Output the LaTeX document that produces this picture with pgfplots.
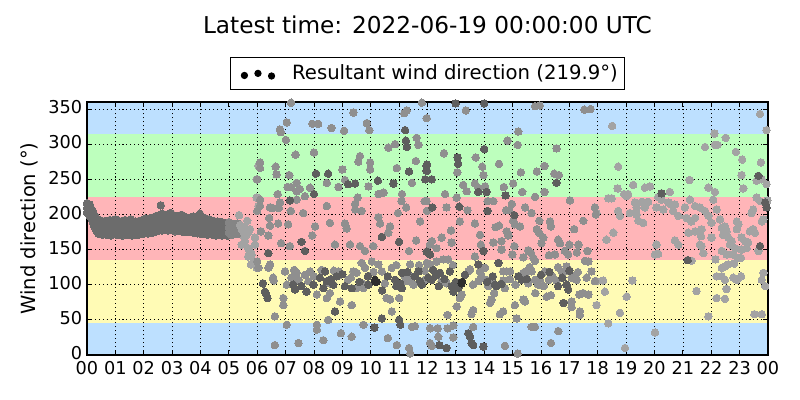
\documentclass[border=0pt]{standalone}
\usepackage{fontspec}
\setmainfont{DejaVu Sans}
\usepackage{pgfplots}
\pgfplotsset{compat=1.18}
\definecolor{bblue}{HTML}{BDE0FF}
\definecolor{bgreen}{HTML}{BDFFBD}
\definecolor{bred}{HTML}{FFB5B8}
\definecolor{byellow}{HTML}{FFFBB5}
\definecolor{cband}{HTML}{6C6C6C}
\definecolor{cbandl}{HTML}{858585}
\definecolor{cl1}{HTML}{8F8F8F}
\definecolor{cl2}{HTML}{A3A3A3}
\definecolor{cd}{HTML}{5E5E5E}
\definecolor{ck}{HTML}{2E2E2E}
\pgfplotsset{dots/.style={only marks, mark=*, mark size=2.7pt, color=#1, mark options={fill=#1, draw=#1, line width=0pt}, forget plot}}
\begin{document}
\begin{tikzpicture}
\begin{axis}[
 scale only axis, width=492.2pt, height=182.84pt,
 xmin=0, xmax=24, ymin=0, ymax=360,
 xtick={0,1,...,24},
 xticklabels={00,01,02,03,04,05,06,07,08,09,10,11,12,13,14,15,16,17,18,19,20,21,22,23,00},
 ytick={0,50,...,350},
 axis on top,
 grid=major,
 grid style={black, line width=0.5pt, dash pattern=on 0.75pt off 2.1pt},
 axis line style={line width=0.9pt},
 major tick style={black, line width=0.7pt},
 major tick length=3.6pt,
 tick align=inside,
 xticklabel style={font=\fontsize{12.8}{15}\selectfont, yshift=-1.2pt},
 yticklabel style={font=\fontsize{12.8}{15}\selectfont, yshift=1.2pt},
 /pgf/number format/assume math mode=true,
 ylabel={Wind direction (°)},
 ylabel style={at={(axis description cs:-0.0852,0.5)}, anchor=center, font=\fontsize{14.1}{17}\selectfont},
 title={Latest time: 2022-06-19 00:00:00 UTC},
 title style={at={(axis description cs:0.5,1.2708)}, anchor=center, font=\fontsize{16.77}{20}\selectfont},
 legend style={at={(axis description cs:0.5,1.1126)}, anchor=center, draw=black, line width=0.8pt,
   font=\fontsize{14.2}{17}\selectfont, inner xsep=5pt, inner ysep=5.5pt,
   nodes={inner sep=0pt}, /tikz/every odd column/.append style={column sep=12.3pt}},
]
% bands
\addplot[fill=bblue, draw=none, forget plot] coordinates {(0,0)(24,0)(24,45)(0,45)};
\addplot[fill=byellow, draw=none, forget plot] coordinates {(0,45)(24,45)(24,135)(0,135)};
\addplot[fill=bred, draw=none, forget plot] coordinates {(0,135)(24,135)(24,225)(0,225)};
\addplot[fill=bgreen, draw=none, forget plot] coordinates {(0,225)(24,225)(24,315)(0,315)};
\addplot[fill=bblue, draw=none, forget plot] coordinates {(0,315)(24,315)(24,360)(0,360)};

% dense band 00-05
\addplot[dots=cband] coordinates {
(0.00,216)(0.00,209)(0.00,203)(0.05,212)(0.05,206)(0.05,201)(0.10,214)(0.10,205)(0.10,198)
(0.15,208)(0.15,200)(0.15,194)(0.20,205)(0.20,197)(0.20,190)(0.25,200)(0.25,193)(0.25,184)
(0.30,196)(0.30,187)(0.30,180)(0.35,194)(0.35,184)(0.35,176)(0.40,190)(0.40,182)(0.40,173)
(0.45,192)(0.45,181)(0.45,172)(0.50,188)(0.50,180)(0.50,174)(0.55,190)(0.55,182)(0.55,171)
(0.60,186)(0.60,179)(0.60,173)(0.65,191)(0.65,184)(0.65,175)(0.70,189)(0.70,180)(0.70,171)
(0.75,187)(0.75,178)(0.75,172)(0.80,192)(0.80,185)(0.80,176)(0.85,188)(0.85,179)(0.85,170)
(0.90,190)(0.90,183)(0.90,174)(0.95,186)(0.95,178)(0.95,172)(1.00,193)(1.00,183)(1.00,175)
(1.05,189)(1.05,180)(1.05,171)(1.10,191)(1.10,181)(1.10,173)(1.15,187)(1.15,182)(1.15,176)
(1.20,190)(1.20,180)(1.20,172)(1.25,185)(1.25,178)(1.25,170)(1.30,189)(1.30,181)(1.30,174)
(1.35,192)(1.35,185)(1.35,177)(1.40,188)(1.40,179)(1.40,171)(1.45,186)(1.45,180)(1.45,173)
(1.50,190)(1.50,183)(1.50,175)(1.55,193)(1.55,181)(1.55,172)(1.60,188)(1.60,178)(1.60,170)
(1.65,186)(1.65,179)(1.65,174)(1.70,190)(1.70,181)(1.70,172)(1.75,189)(1.75,183)(1.75,176)
(1.80,185)(1.80,177)(1.80,171)(1.85,191)(1.85,182)(1.85,173)(1.90,188)(1.90,181)(1.90,175)
(1.95,192)(1.95,183)(1.95,172)(2.00,190)(2.00,184)(2.00,176)(2.05,194)(2.05,183)(2.05,174)
(2.10,188)(2.10,182)(2.10,177)(2.15,193)(2.15,182)(2.15,173)(2.20,191)(2.20,184)(2.20,175)
(2.25,195)(2.25,186)(2.25,178)(2.30,190)(2.30,181)(2.30,174)(2.35,196)(2.35,186)(2.35,177)
(2.40,192)(2.40,186)(2.40,179)(2.45,198)(2.45,187)(2.45,176)(2.50,194)(2.50,187)(2.50,180)
(2.55,199)(2.55,189)(2.55,178)(2.60,196)(2.60,188)(2.60,181)(2.65,201)(2.65,190)(2.65,177)
(2.70,195)(2.70,187)(2.70,180)(2.75,198)(2.75,189)(2.75,178)(2.80,193)(2.80,187)(2.80,182)
(2.85,200)(2.85,189)(2.85,177)(2.90,196)(2.90,188)(2.90,179)(2.95,202)(2.95,191)(2.95,181)
(3.00,197)(3.00,188)(3.00,178)(3.05,199)(3.05,190)(3.05,180)(3.10,195)(3.10,186)(3.10,176)
(3.15,198)(3.15,189)(3.15,179)(3.20,194)(3.20,185)(3.20,177)(3.25,196)(3.25,188)(3.25,181)
(3.30,199)(3.30,189)(3.30,178)(3.35,193)(3.35,184)(3.35,176)(3.40,195)(3.40,187)(3.40,179)
(3.45,192)(3.45,183)(3.45,175)(3.50,196)(3.50,187)(3.50,178)(3.55,193)(3.55,185)(3.55,176)
(3.60,191)(3.60,185)(3.60,179)(3.65,195)(3.65,184)(3.65,175)(3.70,192)(3.70,184)(3.70,177)
(3.75,197)(3.75,186)(3.75,174)(3.80,190)(3.80,184)(3.80,178)(3.85,194)(3.85,185)(3.85,175)
(3.90,196)(3.90,184)(3.90,173)(3.95,192)(3.95,185)(3.95,177)(4.00,198)(4.00,186)(4.00,175)
(4.05,193)(4.05,182)(4.05,172)(4.10,190)(4.10,183)(4.10,176)(4.15,195)(4.15,184)(4.15,173)
(4.20,191)(4.20,183)(4.20,175)(4.25,188)(4.25,180)(4.25,171)(4.30,193)(4.30,183)(4.30,174)
(4.35,190)(4.35,181)(4.35,172)(4.40,187)(4.40,181)(4.40,175)(4.45,191)(4.45,181)(4.45,171)
(4.50,189)(4.50,181)(4.50,173)(4.55,186)(4.55,178)(4.55,170)(4.60,190)(4.60,182)(4.60,174)
(4.65,188)(4.65,179)(4.65,171)(4.70,185)(4.70,179)(4.70,173)(4.75,189)(4.75,179)(4.75,170)
(4.80,187)(4.80,180)(4.80,174)(4.85,184)(4.85,177)(4.85,171)(4.90,188)(4.90,180)(4.90,173)
(4.95,186)(4.95,178)(4.95,170)
(2.60,213)(3.36,199)(3.98,201)
};
\addplot[dots=cbandl] coordinates {
(5.00,189)(5.00,181)(5.00,174)(5.05,185)(5.05,178)(5.05,172)(5.10,187)(5.10,179)(5.10,171)
(5.15,184)(5.15,179)(5.15,174)(5.20,186)(5.20,179)(5.20,172)(5.25,183)(5.25,179)(5.25,175)
(5.30,187)(5.30,180)(5.30,172)(5.35,185)(5.35,180)(5.35,176)
};
% light points (18-24 and transition)
\addplot[dots=cl2] coordinates {
(5.36,199)(5.65,191)(5.56,183)(5.45,180)(5.68,174)(5.74,179)(5.45,157)(5.56,162)(5.54,167)
(5.68,152)(5.74,148)(5.68,140)(5.8,143)(5.78,129)(5.86,133)(5.98,124)(5.92,167)(5.92,157)
(6.04,269)(5.98,250)(5.98,224)(6.04,212)(5.5,176)(5.6,170)(5.4,185)
(18.51,326)(23.72,343)(23.95,320)
(22.11,315)(22.51,309)(21.78,296)(22.13,299)(22.22,299)(22.87,289)(23.09,278)(23.75,274)(18.72,268)
(23.07,256)(23.72,252)(23.78,250)(23.6,248)(21.23,249)(19.25,242)(18.7,237)(19.66,238)(19.84,240)
(18.93,229)(19.02,226)(19.07,229)(20.54,232)(21.9,238)(22.13,232)(23.13,237)(23.95,243)
(18.37,223)(18.49,223)(17.96,202)(19.31,217)(19.37,210)(19.13,202)(19.37,200)(19.55,218)(19.78,218)
(19.66,210)(20.13,225)(20.25,221)(20.07,210)(20.31,207)(20.49,217)(20.6,214)(20.72,214)(20.66,205)
(20.84,198)(18.72,205)(18.78,198)(19.43,191)(19.6,188)(18.55,174)(18.31,164)(20.07,157)(20.02,143)
(20.13,144)(20.72,163)(20.84,157)(21.07,210)(21.25,221)(21.43,212)(21.6,210)(21.78,205)(21.13,195)
(21.3,190)(21.43,195)(21.19,174)(21.43,176)(21.66,179)(21.64,169)(21.6,157)(21.66,155)(21.72,145)
(21.9,198)(22.01,188)(22.01,167)(22.19,207)(22.07,221)(22.31,193)(22.37,181)(22.48,183)(22.54,176)
(22.42,171)(22.6,167)(22.72,162)(22.37,148)(22.54,143)(22.78,143)(22.66,157)(22.84,152)(22.9,190)
(22.96,186)(22.9,179)(23.07,167)(23.19,162)(23.3,160)(23.25,152)(23.36,176)(23.48,179)(23.54,174)
(23.42,202)(23.48,207)(23.6,224)(23.72,219)(23.78,190)(23.84,193)(23.66,148)(23.07,150)(21.31,134)
(22.15,136)(22.96,138)(23.98,220)
(17.96,105)(18.19,106)(18.25,90)(17.96,71)(19.22,106)(19.02,83)(18.78,60)(21.48,91)(21.9,55)
(22.19,112)(22.37,112)(22.48,107)(22.37,124)(22.48,126)(22.6,129)(22.81,130)(22.54,94)(22.19,81)
(22.48,80)(22.78,110)(22.9,107)(23.05,112)(23.05,138)(23.84,117)(23.78,107)(23.9,98)(23.52,58)(23.78,58)
(18.37,45)(20.02,32)(18.96,10)
};
% medium-light points 06-18
\addplot[dots=cl1] coordinates {
(7.19,359)(7.04,331)(6.8,321)(6.83,317)(7.94,329)(8.15,329)(8.62,323)(9.06,319)(9.39,345)(9.86,330)
(9.95,320)(11.18,344)(11.27,348)(11.8,359)
(7.01,306)(6.1,274)(6.1,266)(6.0,250)(6.65,268)(6.68,257)(7.35,285)(7.13,256)(7.07,239)(7.19,239)
(7.39,245)(7.5,236)(7.39,233)(8.0,288)(7.86,238)(8.45,245)(8.86,239)(9.0,264)(9.09,249)(9.56,275)
(9.62,283)(9.98,274)(9.98,264)(9.92,240)(10.62,295)(10.86,300)(11.62,309)(11.68,299)(10.92,266)
(11.45,245)(11.59,276)(11.1,229)(10.45,231)(10.27,229)
(6.1,221)(6.1,212)(6.0,205)(6.45,210)(6.55,209)(6.8,217)(6.76,209)(6.72,229)(6.42,195)(6.45,184)
(6.39,170)(6.74,187)(6.13,176)(7.18,205)(7.39,221)(7.62,202)(7.68,226)(7.09,186)(6.84,159)(7.15,155)
(7.94,170)(8.04,183)(8.56,188)(8.45,212)(8.74,157)(9.09,187)(9.15,180)(9.27,157)(9.45,207)(9.45,215)
(9.54,224)(9.68,205)(9.62,155)(9.8,148)(10.09,155)(10.27,196)(10.33,187)(10.68,183)(10.62,174)
(10.96,202)(11.08,219)(11.25,210)(11.6,163)(11.35,148)(11.9,219)(11.98,205)(11.74,190)
(6.04,124)(6.0,133)(6.45,129)(6.56,110)(6.58,106)(6.62,55)(6.98,119)(7.04,100)(6.92,81)(6.92,71)
(7.3,121)(7.39,117)(7.45,107)(7.68,114)(7.86,119)(8.1,86)(8.27,121)(8.45,81)(8.56,102)(8.5,50)
(8.56,88)(8.86,119)(8.92,114)(8.92,76)(9.2,107)(9.39,119)(9.5,117)(9.68,131)(9.8,124)(9.5,95)
(9.74,95)(9.33,71)(10.04,133)(10.27,129)(10.39,119)(10.5,102)(10.56,81)(10.68,79)(10.74,62)
(10.74,124)(11.0,81)(11.27,105)(11.45,110)(11.51,100)(11.92,107)(11.98,131)(11.39,129)(6.4,124)
(7.04,43)(6.62,14)(7.45,17)(8.1,36)(8.1,43)(8.33,21)(8.95,31)(9.33,26)(9.74,43)(10.6,24)
(10.92,14)(11.35,10)(11.45,40)(11.56,41)(11.39,2)
(13.35,348)(11.97,337)(15.79,354)(15.96,355)(17.53,349)(17.75,350)(15.2,318)
(12.58,287)(13.05,260)(13.7,281)(13.93,268)(13.97,256)(13.26,242)(13.38,233)(13.67,244)(14.03,240)
(13.79,238)(14.82,305)(15.18,299)(14.52,272)(14.69,239)(15.02,244)(15.29,260)(15.34,232)(15.85,261)
(16.12,269)(15.79,225)(16.12,232)(16.55,294)(16.47,258)(16.63,256)(13.03,224)(12.62,229)(11.97,219)
(12.67,210)(13.41,206)(14.12,219)(14.32,219)(14.97,215)(14.77,206)(14.88,206)(15.02,191)(15.44,210)
(15.67,202)(15.94,191)(15.26,183)(13.14,190)(13.67,187)(14.52,184)(14.4,182)(14.79,176)(14.85,170)
(15.08,186)(15.85,179)(15.93,174)(16.32,190)(16.35,183)(16.08,167)(16.02,159)(16.6,164)(16.67,159)
(17.02,220)(17.49,191)(17.17,179)(17.0,157)(17.32,157)(17.64,148)(17.9,210)(17.93,200)(12.83,177)
(12.85,160)(12.5,167)(12.15,162)(12.09,157)(12.32,152)(13.85,171)(13.88,157)(13.67,140)(14.32,160)
(14.61,162)(14.61,150)(15.06,155)(14.99,143)(15.55,149)(15.65,145)(15.73,138)(15.79,134)(16.28,142)
(16.49,143)(16.84,148)(16.96,143)(17.26,146)(17.55,134)(15.38,139)
(12.09,129)(12.32,133)(12.56,136)(12.73,136)(12.5,105)(12.67,102)(13.2,86)(13.14,81)(13.44,119)
(13.85,119)(14.03,124)(13.79,105)(14.08,107)(14.26,106)(14.14,98)(14.67,119)(14.79,119)(14.91,119)
(14.67,106)(14.73,95)(14.26,79)(14.2,74)(13.61,64)(13.55,58)(13.03,69)(12.71,57)(14.67,62)(14.55,58)
(15.08,71)(15.14,52)(15.38,117)(15.44,114)(15.49,119)(15.67,119)(15.79,107)(15.96,107)(15.9,100)
(15.55,102)(15.44,76)(15.38,79)(16.14,119)(16.28,107)(16.35,85)(16.2,83)(16.73,119)(16.84,119)
(16.55,106)(17.08,110)(17.14,112)(17.26,107)(17.35,86)(17.08,76)(17.08,68)(17.37,62)(17.37,57)
(17.67,133)(17.78,119)(17.61,110)(17.9,105)(17.67,86)(17.49,88)
(12.09,38)(12.36,38)(12.71,38)(12.91,42)(12.38,26)(12.09,17)(12.15,13)(12.91,25)(13.61,40)(14.73,13)
(15.18,2)(15.67,40)(15.79,40)(16.61,34)(16.35,17)
(8.0,112)(8.7,120)(9.3,110)(9.7,102)(10.1,118)(10.9,128)(11.2,112)(11.9,120)(12.9,128)(13.5,122)
(13.9,112)(14.9,108)(15.1,100)(15.6,125)(16.1,98)(16.4,112)(16.9,126)(17.3,118)(7.8,105)(7.2,110)
(11.7,128)(13.6,100)(14.35,88)(15.8,88)(16.6,125)
};
% dark points
\addplot[dots=cd] coordinates {
(8.07,258)(8.0,229)(8.5,258)(9.2,243)(9.45,244)(10.25,248)(10.8,244)(11.24,305)(11.27,296)(11.35,261)
(11.98,271)(11.98,262)(11.92,250)(11.21,320)
(7.15,220)(7.56,161)(7.68,148)(10.39,168)(11.0,161)(6.39,145)
(6.2,102)(6.27,90)(6.36,81)(6.3,88)(7.27,100)(7.33,93)(7.56,98)(7.74,90)(7.98,100)(8.21,110)
(8.39,119)(8.45,105)(8.33,95)(8.68,100)(8.74,62)(9.09,98)(9.33,95)(9.92,100)(10.39,52)(10.86,107)
(11.04,102)(11.1,95)(11.0,50)(11.04,43)(11.1,117)(11.68,119)(11.74,105)(11.8,100)(10.13,39)
(12.99,358)(14.0,358)
(11.97,269)(11.97,262)(12.15,250)(13.06,281)(13.08,272)(14.0,293)(13.79,232)(14.08,232)(14.75,227)(16.55,245)
(12.17,210)(13.12,211)(14.12,205)(15.06,199)(11.97,147)(12.09,143)(13.97,148)
(12.2,121)(12.44,117)(12.79,119)(12.03,110)(12.15,107)(12.85,98)(12.91,90)(13.32,114)(13.79,129)
(14.38,100)(14.44,98)(14.5,131)(15.32,107)(16.9,100)(16.96,93)(16.79,74)
(12.42,14)(12.67,10)(13.44,31)(13.5,26)(13.55,17)(13.61,14)(13.97,12)
(8.6,108)(8.8,112)(9.6,104)(9.0,115)(10.6,112)(10.9,98)(11.3,118)(11.55,112)(12.3,113)(12.6,108)
(12.4,98)(13.0,104)(13.1,96)(14.1,104)(14.3,112)(14.6,101)(15.2,112)(15.5,108)(16.0,114)(16.3,118)
(16.6,98)(16.75,110)(17.0,120)(9.9,112)(10.4,92)
(20.25,230)(23.72,155)(23.9,217)(23.95,210)(23.66,255)(21.17,135)
};
% black points
\addplot[dots=ck] coordinates {
(10.15,107)(10.15,105)(10.2,104)(13.2,102)(13.22,104)
};
\addlegendimage{legend image code/.code={
  \path[draw=none,fill=none] (-5.2pt,0pt) rectangle (0pt,0.1pt);
  \fill[black] (0pt,-1.4pt) circle (2.2pt);
  \fill[black] (9.8pt,0.1pt) circle (2.2pt);
  \fill[black] (19.6pt,-1.8pt) circle (2.2pt);}}
\addlegendentry{Resultant wind direction (219.9°)}
\end{axis}
\pgfresetboundingbox
\path ([xshift=-62.87pt,yshift=-32.52pt]current axis.south west) rectangle ([xshift=23.13pt,yshift=73.72pt]current axis.north east);
\end{tikzpicture}
\end{document}
